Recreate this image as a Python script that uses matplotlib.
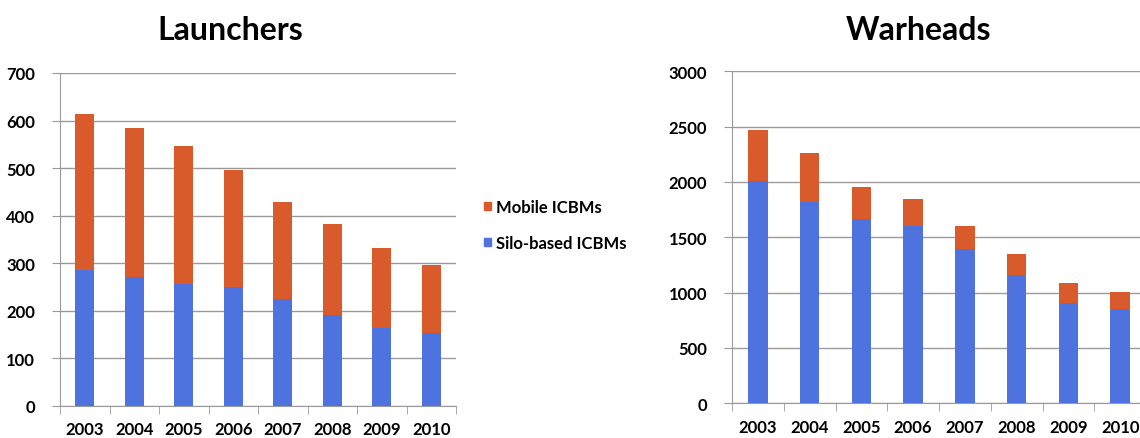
import matplotlib
matplotlib.use("Agg")
import matplotlib.pyplot as plt
from matplotlib.patches import Patch
import numpy as np

years = ["2003", "2004", "2005", "2006", "2007", "2008", "2009", "2010"]
launchers_silo = [285, 270, 256, 250, 224, 191, 163, 152]
launchers_mobile = [328, 315, 291, 246, 205, 192, 168, 143]
warheads_silo = [2006, 1816, 1663, 1602, 1398, 1163, 910, 849]
warheads_mobile = [467, 449, 292, 241, 204, 189, 180, 157]

blue = "#4f73de"
orange = "#d95a2b"
grid_c = "#9a9a9a"

plt.rcParams["font.family"] = ["Lato", "DejaVu Sans"]
plt.rcParams["font.weight"] = "bold"

fig = plt.figure(figsize=(11.4, 4.39), dpi=100)
ax1 = fig.add_axes([60 / 1140, 32.3 / 439, 396 / 1140, 332.7 / 439])
ax2 = fig.add_axes([732 / 1140, 34.7 / 439, 414 / 1140, 332 / 439])


def draw(ax, silo, mobile, ymax, step):
    x = np.arange(len(years))
    ax.bar(x, silo, width=0.38, color=blue, zorder=3)
    ax.bar(x, mobile, bottom=silo, width=0.38, color=orange, zorder=3)
    ax.set_xlim(-0.5, len(years) - 0.5)
    ax.set_ylim(0, ymax)
    ax.set_yticks(np.arange(0, ymax + 1, step))
    ax.set_xticks(x)
    ax.set_xticklabels(years)
    ax.set_xticks(np.arange(-0.5, len(years), 1), minor=True)
    ax.tick_params(axis="x", which="major", length=0, pad=11, labelsize=12)
    ax.tick_params(axis="x", which="minor", length=6, color=grid_c, direction="out")
    ax.tick_params(axis="y", length=6, color=grid_c, pad=12, labelsize=12)
    ax.yaxis.grid(True, color=grid_c, linewidth=1, zorder=0)
    for s in ["top", "right"]:
        ax.spines[s].set_visible(False)
    for s in ["left", "bottom"]:
        ax.spines[s].set_color(grid_c)


draw(ax1, launchers_silo, launchers_mobile, 700, 100)
draw(ax2, warheads_silo, warheads_mobile, 3000, 500)

fig.text(230 / 1140, 1 - 30 / 439, "Launchers", ha="center", va="center",
         fontsize=23, fontweight="bold")
fig.text(918 / 1140, 1 - 30 / 439, "Warheads", ha="center", va="center",
         fontsize=23, fontweight="bold")

handles = [Patch(color=orange, label="Mobile ICBMs"),
           Patch(color=blue, label="Silo-based ICBMs")]
fig.legend(handles=handles, loc="upper left", bbox_to_anchor=(469 / 1140, 1 - 185 / 439),
           frameon=False, fontsize=12, handlelength=0.4, handleheight=0.4,
           handletextpad=0.3, labelspacing=1.2)

fig.savefig("out.png", dpi=100)
